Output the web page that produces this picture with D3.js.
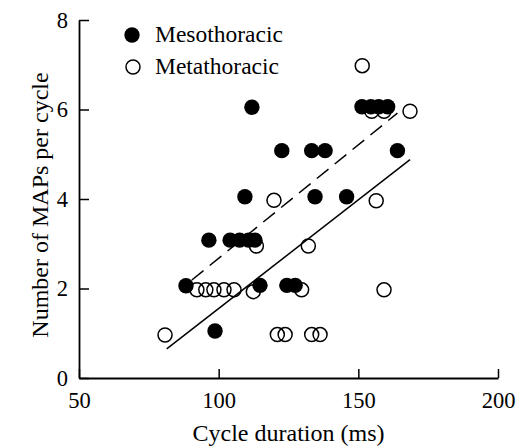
<!DOCTYPE html>
<html>
<head>
<meta charset="utf-8">
<script src="https://cdn.jsdelivr.net/npm/d3@7"></script>
<style>
  body { margin: 0; background: #fff; }
  text { font-family: "Liberation Serif", "Times New Roman", serif; fill: #000; }
</style>
</head>
<body>
<svg id="chart"></svg>
<script>
// Mesothoracic (filled) : cycle duration (ms), MAPs per cycle
const mesoX = [88.3, 96.5, 98.7, 104.1, 107.5, 110.7, 113.0, 109.4, 111.9, 114.8, 122.6, 124.4, 127.4,
               133.3, 138.1, 134.5, 145.8, 151.3, 154.5, 157.3, 160.5, 164.0];
const mesoY = [2.06, 3.08, 1.05, 3.08, 3.08, 3.08, 3.08, 4.05, 6.05, 2.07, 5.08, 2.07, 2.07,
               5.08, 5.08, 4.05, 4.05, 6.06, 6.06, 6.06, 6.06, 5.08];
// Metathoracic (open)
const metaX = [80.8, 92.2, 95.4, 98.3, 101.9, 105.5, 112.4, 113.5, 119.8, 121.0, 123.8, 129.7, 132.1,
               133.3, 136.3, 151.4, 154.8, 159.2, 156.4, 159.2, 168.5];
const metaY = [0.96, 1.97, 1.97, 1.97, 1.97, 1.97, 1.93, 2.95, 3.97, 0.97, 0.97, 1.97, 2.95,
               0.97, 0.97, 6.98, 5.96, 5.96, 3.96, 1.97, 5.96];
// regression lines, end points
const mesoFitX = [90.4, 164.0], mesoFitY = [2.19, 5.92];
const metaFitX = [81.4, 168.5], metaFitY = [0.65, 4.88];

const xTicks = [50, 100, 150, 200];
const yTicks = [0, 2, 4, 6, 8];
const legendLabels = ["Mesothoracic", "Metathoracic"];

const W = 521, H = 447;
const svg = d3.select("#chart").attr("width", W).attr("height", H);

const x = d3.scaleLinear().domain([50, 200]).range([79, 498]);
const y = d3.scaleLinear().domain([0, 8]).range([378, 20]);

// axes (ticks point inward)
const xAxis = svg.append("g")
  .attr("transform", `translate(0,${y(0)})`)
  .call(d3.axisBottom(x).tickValues(xTicks).tickSizeInner(-9).tickSizeOuter(0).tickPadding(14));
const yAxis = svg.append("g")
  .attr("transform", `translate(${x(50)},0)`)
  .call(d3.axisLeft(y).tickValues(yTicks).tickSizeInner(-10).tickSizeOuter(0).tickPadding(11));

[xAxis, yAxis].forEach(a => {
  a.select(".domain").attr("stroke", "#000").attr("stroke-width", 1.8);
  a.selectAll(".tick line").attr("stroke", "#000").attr("stroke-width", 1.5);
  a.selectAll(".tick text").attr("font-size", 22.5).attr("font-family", "Liberation Serif");
});

// axis titles
svg.append("text")
  .attr("x", (x(50) + x(200)) / 2).attr("y", 441)
  .attr("text-anchor", "middle").attr("font-size", 24)
  .text("Cycle duration (ms)");
svg.append("text")
  .attr("transform", `translate(48,${205})rotate(-90)`)
  .attr("text-anchor", "middle").attr("font-size", 24)
  .text("Number of MAPs per cycle");

// fit lines
const line = d3.line().x(d => x(d[0])).y(d => y(d[1]));
svg.append("path")
  .attr("d", line(d3.zip(mesoFitX, mesoFitY)))
  .attr("fill", "none").attr("stroke", "#000").attr("stroke-width", 1.5)
  .attr("stroke-dasharray", "15,8");
svg.append("path")
  .attr("d", line(d3.zip(metaFitX, metaFitY)))
  .attr("fill", "none").attr("stroke", "#000").attr("stroke-width", 1.5);

// points: open first, filled on top
svg.append("g").selectAll("circle")
  .data(d3.zip(metaX, metaY))
  .join("circle")
  .attr("cx", d => x(d[0])).attr("cy", d => y(d[1]))
  .attr("r", 7).attr("fill", "none").attr("stroke", "#000").attr("stroke-width", 1.5);
svg.append("g").selectAll("circle")
  .data(d3.zip(mesoX, mesoY))
  .join("circle")
  .attr("cx", d => x(d[0])).attr("cy", d => y(d[1]))
  .attr("r", 7.7).attr("fill", "#000");

// legend
const legend = svg.append("g");
legend.append("circle").attr("cx", 132).attr("cy", 35).attr("r", 7.7).attr("fill", "#000");
legend.append("circle").attr("cx", 133).attr("cy", 67).attr("r", 7)
  .attr("fill", "none").attr("stroke", "#000").attr("stroke-width", 1.5);
legend.selectAll("text")
  .data(legendLabels)
  .join("text")
  .attr("x", 155).attr("y", (d, i) => 42 + i * 32)
  .attr("font-size", 23.5)
  .text(d => d);
</script>
</body>
</html>
